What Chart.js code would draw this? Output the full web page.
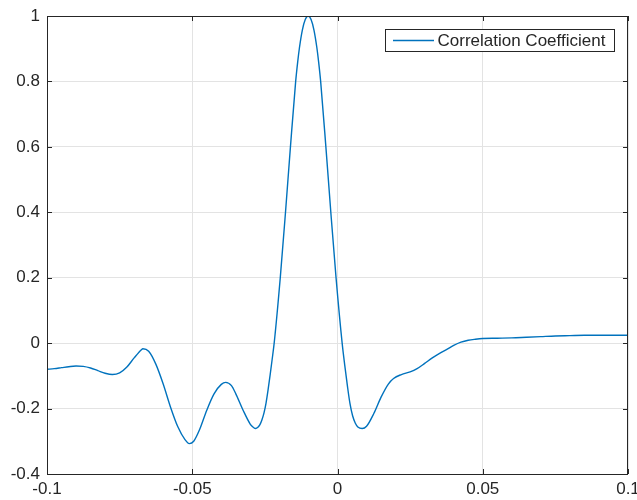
<!DOCTYPE html>
<html>
<head>
<meta charset="utf-8">
<script src="https://cdn.jsdelivr.net/npm/chart.js@4"></script>
<style>
  html, body { margin: 0; padding: 0; background: #fff; }
  #wrap { width: 637px; height: 500px; }
</style>
</head>
<body>
<div id="wrap"><canvas id="myChart" width="637" height="500"></canvas></div>
<script>
const lags = [
    -0.1, -0.0975, -0.095, -0.0925, -0.09, -0.0875, -0.085, -0.0825, -0.08, -0.0775,
    -0.075, -0.0725, -0.07, -0.0675, -0.067, -0.065, -0.0625, -0.06, -0.0575, -0.055,
    -0.0525, -0.051, -0.0495, -0.0475, -0.045, -0.0425, -0.04, -0.0385, -0.0365, -0.035,
    -0.0325, -0.03, -0.029, -0.0282, -0.0274, -0.0267, -0.026, -0.0253, -0.0246, -0.0239,
    -0.0232, -0.0225, -0.0218, -0.0197, -0.0179, -0.0162, -0.0144, -0.0137, -0.0131, -0.0121,
    -0.0111, -0.0101, -0.0091, -0.0081, -0.0071, -0.0065, -0.0058, -0.004, -0.0023, -0.0005,
    0.0016, 0.0025, 0.0034, 0.0043, 0.0052, 0.0061, 0.007, 0.0085, 0.01, 0.0125,
    0.015, 0.0175, 0.0193, 0.022, 0.025, 0.0274, 0.03, 0.0325, 0.035, 0.0375,
    0.04, 0.0425, 0.045, 0.0475, 0.05, 0.055, 0.06, 0.065, 0.07, 0.075,
    0.08, 0.085, 0.09, 0.095, 0.1
];
const corr = [
    -0.080, -0.078, -0.075, -0.072, -0.070, -0.071, -0.076, -0.084, -0.092, -0.096,
    -0.091, -0.073, -0.045, -0.020, -0.017, -0.025, -0.065, -0.125, -0.195, -0.255,
    -0.295, -0.307, -0.300, -0.265, -0.205, -0.155, -0.126, -0.120, -0.130, -0.155,
    -0.205, -0.248, -0.257, -0.261, -0.257, -0.249, -0.234, -0.213, -0.183, -0.143,
    -0.098, -0.050, 0.000, 0.200, 0.400, 0.600, 0.800, 0.860, 0.903, 0.957,
    0.989, 1.000, 0.989, 0.957, 0.903, 0.860, 0.800, 0.600, 0.400, 0.200,
    0.000, -0.068, -0.130, -0.185, -0.222, -0.244, -0.256, -0.261, -0.254, -0.215,
    -0.165, -0.125, -0.108, -0.096, -0.088, -0.078, -0.062, -0.046, -0.032, -0.020,
    -0.007, 0.003, 0.009, 0.012, 0.014, 0.015, 0.016, 0.018, 0.020, 0.022,
    0.023, 0.024, 0.024, 0.024, 0.024
];
const xTicks = [-0.1, -0.05, 0, 0.05, 0.1];
const xTickLabels = ["-0.1", "-0.05", "0", "0.05", "0.1"];
const yTicks = [-0.4, -0.2, 0, 0.2, 0.4, 0.6, 0.8, 1];
const yTickLabels = ["-0.4", "-0.2", "0", "0.2", "0.4", "0.6", "0.8", "1"];
const seriesName = "Correlation Coefficient";

const axisColor = "#262626";
const lineColor = "#0072BD";
const fontFamily = "'Liberation Sans', Arial, Helvetica, sans-serif";

// box round the plot, inward ticks on all four sides, and the boxed legend
const matlabBox = {
    id: "matlabBox",
    afterDraw(chart) {
        const c = chart.ctx;
        const a = chart.chartArea;
        const xs = chart.scales.x;
        const ys = chart.scales.y;
        c.save();
        c.strokeStyle = axisColor;
        c.lineWidth = 1;
        c.strokeRect(a.left + 0.5, a.top + 0.5, a.right - a.left - 1, a.bottom - a.top);
        const t = 5;
        c.beginPath();
        xTicks.forEach(v => {
            const px = Math.round(xs.getPixelForValue(v)) + 0.5;
            c.moveTo(px, a.bottom); c.lineTo(px, a.bottom - t);
            c.moveTo(px, a.top); c.lineTo(px, a.top + t);
        });
        yTicks.forEach(v => {
            const py = Math.round(ys.getPixelForValue(v)) + 0.5;
            c.moveTo(a.left, py); c.lineTo(a.left + t, py);
            c.moveTo(a.right, py); c.lineTo(a.right - t, py);
        });
        c.stroke();

        // legend
        const lx = 385.5, ly = 29.5, lw = 229, lh = 22;
        c.fillStyle = "#fff";
        c.fillRect(lx, ly, lw, lh);
        c.strokeStyle = axisColor;
        c.strokeRect(lx, ly, lw, lh);
        c.strokeStyle = lineColor;
        c.lineWidth = 1.3;
        c.beginPath();
        c.moveTo(393, ly + lh / 2);
        c.lineTo(434, ly + lh / 2);
        c.stroke();
        c.fillStyle = axisColor;
        c.font = "17px " + fontFamily;
        c.textBaseline = "middle";
        c.textAlign = "left";
        c.fillText(seriesName, 437.5, ly + lh / 2 + 1);
        c.restore();
    }
};

const ctx = document.getElementById("myChart");

new Chart(ctx, {
    type: "line",
    data: {
        datasets: [{
            label: seriesName,
            data: lags.map((x, i) => ({ x: x, y: corr[i] })),
            borderColor: lineColor,
            borderWidth: 1.4,
            pointRadius: 0,
            fill: false,
            cubicInterpolationMode: "monotone",
        }, ],
    },
    options: {
        responsive: false,
        animation: false,
        layout: {
            autoPadding: false,
            padding: { top: 16, right: 9, left: 0, bottom: 0 },
        },
        plugins: {
            legend: { display: false },
            tooltip: { enabled: false },
        },
        scales: {
            x: {
                type: "linear",
                min: -0.1,
                max: 0.1,
                afterBuildTicks: (s) => { s.ticks = xTicks.map(v => ({ value: v })); },
                afterFit: (s) => {
                    s.height = 26;
                    s.paddingLeft = 0;
                    s.paddingRight = 0;
                },
                ticks: {
                    padding: 5,
                    color: axisColor,
                    font: { family: fontFamily, size: 17 },
                    maxRotation: 0,
                    callback: (v) => xTickLabels[xTicks.findIndex(t => Math.abs(t - v) < 1e-9)],
                },
                grid: { color: "#e3e3e3", drawTicks: false, lineWidth: 1 },
                border: { display: false },
            },
            y: {
                type: "linear",
                min: -0.4,
                max: 1,
                afterBuildTicks: (s) => { s.ticks = yTicks.map(v => ({ value: v })); },
                afterFit: (s) => {
                    s.width = 47;
                    s.paddingTop = 0;
                    s.paddingBottom = 0;
                },
                ticks: {
                    padding: 7,
                    color: axisColor,
                    font: { family: fontFamily, size: 17 },
                    callback: (v) => yTickLabels[yTicks.findIndex(t => Math.abs(t - v) < 1e-9)],
                },
                grid: { color: "#e3e3e3", drawTicks: false, lineWidth: 1 },
                border: { display: false },
            },
        },
    },
    plugins: [matlabBox],
});
</script>
</body>
</html>
